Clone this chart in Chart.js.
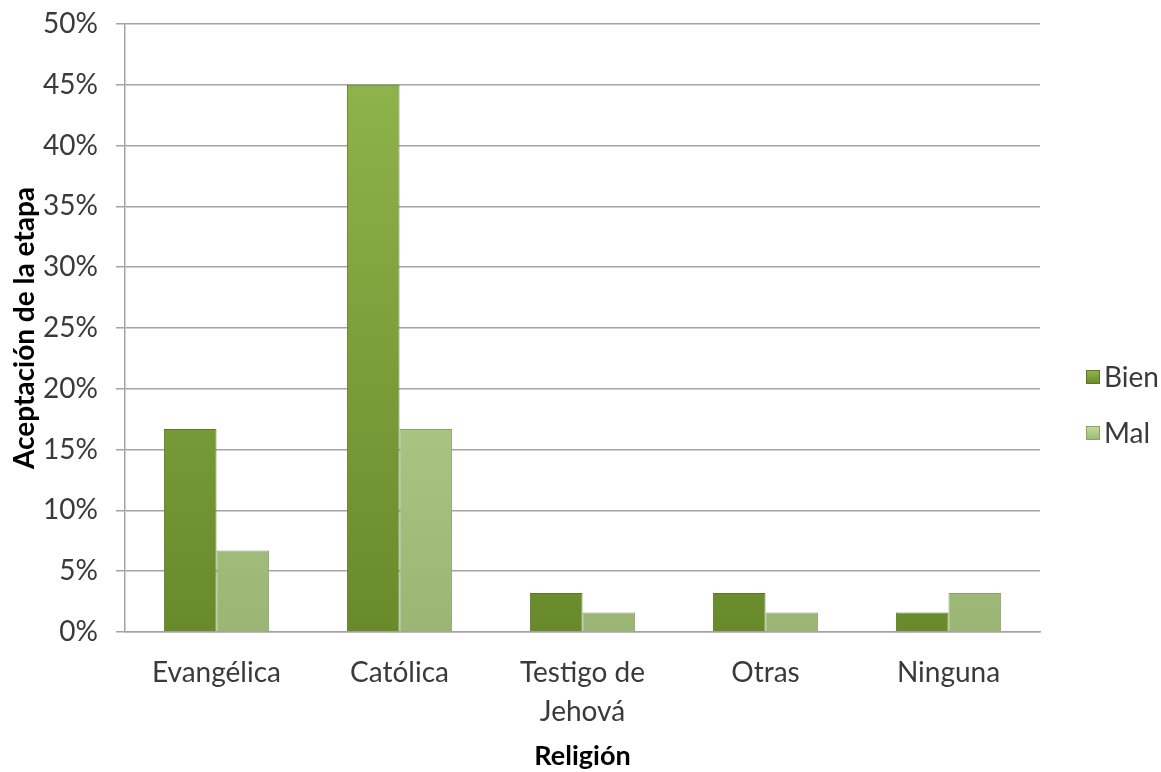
<!DOCTYPE html>
<html>
<head>
<meta charset="utf-8">
<title>Aceptación de la etapa por religión</title>
<script src="https://cdn.jsdelivr.net/npm/chart.js"></script>
<style>
    html, body { margin: 0; background: #fff; }
    #chart { display: block; }
</style>
</head>
<body>
<canvas id="chart" width="1161" height="772"></canvas>
<script>
    // data (percent)
    const categories = ["Evangélica", "Católica", ["Testigo de", "Jehová"], "Otras", "Ninguna"];
    const seriesNames = ["Bien", "Mal"];
    const bienValues = [16.7, 45, 3.2, 3.2, 1.6];
    const malValues = [6.7, 16.7, 1.6, 1.6, 3.2];
    const yMax = 50;
    const yStep = 5;

    const FONT = "Lato, 'Open Sans', sans-serif";
    const GRID = "#a3a3a3";
    const TEXT = "#3a3a3a";

    // top -> bottom colours for each series
    const shades = [
        { top: "#93b74e", bottom: "#688a2b", edge: "#5b7824" },
        { top: "#c4de9f", bottom: "#9ab574", edge: "#8aa365" }
    ];

    function barFill(idx) {
        return function (ctx) {
            const area = ctx.chart.chartArea;
            if (!area) return shades[idx].bottom;
            const g = ctx.chart.ctx.createLinearGradient(0, area.top, 0, area.bottom);
            g.addColorStop(0, shades[idx].top);
            g.addColorStop(1, shades[idx].bottom);
            return g;
        };
    }

    // simple legend on the right, beside the plot
    const sideLegend = {
        id: "sideLegend",
        afterDraw(chart) {
            const c = chart.ctx;
            const ys = [377, 433];
            c.save();
            chart.data.datasets.forEach(function (ds, i) {
                const y = ys[i];
                const g = c.createLinearGradient(0, y - 7, 0, y + 7);
                g.addColorStop(0, shades[i].top);
                g.addColorStop(1, shades[i].bottom);
                c.fillStyle = g;
                c.fillRect(1086, y - 7, 14, 14);
                c.strokeStyle = shades[i].edge;
                c.lineWidth = 1;
                c.strokeRect(1086.5, y - 6.5, 13, 13);
                c.fillStyle = TEXT;
                c.font = "28px " + FONT;
                c.textBaseline = "middle";
                c.textAlign = "left";
                c.fillText(ds.label, 1104, y + 1);
            });
            c.restore();
        }
    };

    const ctx = document.getElementById("chart").getContext("2d");
    const myChart = new Chart(ctx, {
        type: "bar",
        data: {
            labels: categories,
            datasets: [
                {
                    label: seriesNames[0],
                    data: bienValues,
                    backgroundColor: barFill(0),
                    borderColor: shades[0].edge,
                    borderWidth: 1
                },
                {
                    label: seriesNames[1],
                    data: malValues,
                    backgroundColor: barFill(1),
                    borderColor: shades[1].edge,
                    borderWidth: 1
                }
            ]
        },
        options: {
            responsive: false,
            animation: false,
            layout: { padding: { top: 24, right: 121, bottom: 0, left: 0 } },
            datasets: {
                bar: { categoryPercentage: 0.575, barPercentage: 1.0 }
            },
            plugins: {
                legend: { display: false },
                tooltip: { enabled: false }
            },
            scales: {
                x: {
                    grid: { display: false },
                    border: { display: true, color: GRID, width: 1.5 },
                    ticks: {
                        color: TEXT,
                        padding: 13,
                        font: { family: FONT, size: 28, lineHeight: 1.4 }
                    },
                    title: {
                        display: true,
                        text: "Religión",
                        color: "#000",
                        padding: { top: 0, bottom: 0 },
                        font: { family: FONT, size: 27, weight: "bold", lineHeight: 1.2 }
                    },
                    afterFit(scale) { scale.height = 140; }
                },
                y: {
                    min: 0,
                    max: yMax,
                    grid: { color: GRID, lineWidth: 1.5, tickLength: 9, drawTicks: true },
                    border: { display: true, color: GRID, width: 1.5 },
                    ticks: {
                        stepSize: yStep,
                        color: TEXT,
                        padding: 18,
                        font: { family: FONT, size: 28 },
                        callback: function (v) { return v + "%"; }
                    },
                    title: {
                        display: true,
                        text: "Aceptación de la etapa",
                        color: "#000",
                        padding: { top: 8, bottom: 0 },
                        font: { family: FONT, size: 28, weight: "bold", lineHeight: 1.2 }
                    },
                    afterFit(scale) {
                        scale.width = 125;
                        scale.paddingTop = 0;
                        scale.paddingBottom = 0;
                    }
                }
            }
        },
        plugins: [sideLegend]
    });
</script>
</body>
</html>
